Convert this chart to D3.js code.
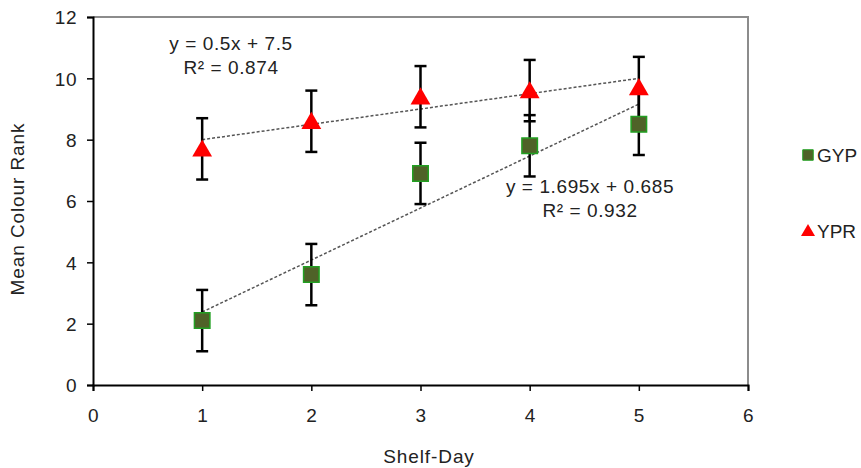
<!DOCTYPE html>
<html lang="en">
<head>
    <meta charset="utf-8">
    <title>Mean Colour Rank</title>
    <script src="https://cdn.jsdelivr.net/npm/d3@7"></script>
    <style>
        body { margin: 0; background: #fff; }
        text { font-family: "Liberation Sans", Arial, sans-serif; fill: #222; }
    </style>
</head>
<body>
<div id="chart"></div>
<script>
    // Data
    var days = [1, 2, 3, 4, 5];
    var gypMean = [2.1, 3.6, 6.9, 7.8, 8.5];
    var gypErr = [1, 1, 1, 1, 1];
    var yprMean = [7.7, 8.6, 9.4, 9.6, 9.7];
    var yprErr = [1, 1, 1, 1, 1];
    var xTicks = [0, 1, 2, 3, 4, 5, 6];
    var yTicks = [0, 2, 4, 6, 8, 10, 12];
    // trendline coefficients [slope, intercept]
    var gypFit = [1.695, 0.685];
    var yprFit = [0.5, 7.5];
    var gypLabel = ['y = 1.695x + 0.685', 'R\u00b2 = 0.932'];
    var yprLabel = ['y = 0.5x + 7.5', 'R\u00b2 = 0.874'];

    var width = 861, height = 468;
    var plotLeft = 93, plotRight = 748, plotTop = 17, plotBottom = 385;

    var x = d3.scaleLinear().domain([0, 6]).range([plotLeft, plotRight]);
    var y = d3.scaleLinear().domain([0, 12]).range([plotBottom, plotTop]);

    var svg = d3.select('#chart').append('svg')
        .attr('width', width)
        .attr('height', height);

    // plot area frame (top/right grey)
    svg.append('path')
        .attr('d', 'M' + plotLeft + ',' + plotTop + 'H' + plotRight + 'V' + plotBottom)
        .attr('fill', 'none')
        .attr('stroke', '#8c8c8c')
        .attr('stroke-width', 2);

    var fontSize = '19px';

    // axes
    var yAxis = svg.append('g')
        .attr('transform', 'translate(' + plotLeft + ',0)')
        .call(d3.axisLeft(y).tickValues(yTicks).tickFormat(d3.format('d')).tickSize(6).tickPadding(10));
    var xAxis = svg.append('g')
        .attr('transform', 'translate(0,' + plotBottom + ')')
        .call(d3.axisBottom(x).tickValues(xTicks).tickFormat(d3.format('d')).tickSize(6).tickPadding(18));

    [xAxis, yAxis].forEach(function(g) {
        g.select('.domain').attr('stroke', '#000').attr('stroke-width', 2);
        g.selectAll('.tick line').attr('stroke', '#000').attr('stroke-width', 1.5);
        g.selectAll('.tick text')
            .attr('font-family', '"Liberation Sans", Arial, sans-serif')
            .attr('font-size', fontSize)
            .attr('fill', '#222')
            .style('letter-spacing', '0.5px');
    });
    yAxis.selectAll('.tick text').attr('dy', '0.36em');

    // axis titles
    svg.append('text')
        .attr('x', 429).attr('y', 463)
        .attr('text-anchor', 'middle')
        .attr('font-size', fontSize)
        .style('letter-spacing', '0.9px')
        .text('Shelf-Day');

    svg.append('text')
        .attr('transform', 'translate(24,209) rotate(-90)')
        .attr('text-anchor', 'middle')
        .attr('font-size', fontSize)
        .style('letter-spacing', '0.9px')
        .text('Mean Colour Rank');

    // trendlines
    function trend(fit) {
        var x0 = d3.min(days), x1 = d3.max(days);
        svg.append('line')
            .attr('x1', x(x0)).attr('y1', y(fit[0] * x0 + fit[1]))
            .attr('x2', x(x1)).attr('y2', y(fit[0] * x1 + fit[1]))
            .attr('stroke', '#555')
            .attr('stroke-width', 1.5)
            .attr('stroke-dasharray', '3,2');
    }
    trend(yprFit);
    trend(gypFit);

    // error bars
    function errorBars(mean, err) {
        var g = svg.append('g').attr('stroke', '#000').attr('stroke-width', 2.5);
        days.forEach(function(d, i) {
            var hi = y(mean[i] + err[i]), lo = y(mean[i] - err[i]), cx = x(d);
            g.append('line').attr('x1', cx).attr('x2', cx).attr('y1', hi).attr('y2', lo);
            g.append('line').attr('x1', cx - 6).attr('x2', cx + 6).attr('y1', hi).attr('y2', hi);
            g.append('line').attr('x1', cx - 6).attr('x2', cx + 6).attr('y1', lo).attr('y2', lo);
        });
    }
    errorBars(gypMean, gypErr);
    errorBars(yprMean, yprErr);

    var square = d3.symbol().type(d3.symbolSquare).size(240);
    var triangle = d3.symbol().type(d3.symbolTriangle).size(170);

    // GYP markers
    svg.append('g').selectAll('path')
        .data(days)
        .enter()
        .append('path')
        .attr('d', square)
        .attr('transform', function(d, i) { return 'translate(' + x(d) + ',' + y(gypMean[i]) + ')'; })
        .attr('fill', '#4f6228')
        .attr('stroke', '#22a022')
        .attr('stroke-width', 1.5);

    // YPR markers
    svg.append('g').selectAll('path')
        .data(days)
        .enter()
        .append('path')
        .attr('d', triangle)
        .attr('transform', function(d, i) { return 'translate(' + x(d) + ',' + (y(yprMean[i]) + 2) + ')'; })
        .attr('fill', '#ff0000');

    // trendline labels
    function fitLabel(lines, cx, cy) {
        svg.append('g').selectAll('text')
            .data(lines)
            .enter()
            .append('text')
            .attr('x', cx)
            .attr('y', function(d, i) { return cy + i * 24; })
            .attr('text-anchor', 'middle')
            .attr('font-size', fontSize)
            .style('letter-spacing', '0.6px')
            .text(function(d) { return d; });
    }
    fitLabel(yprLabel, 231, 50);
    fitLabel(gypLabel, 590, 193);

    // legend
    var legend = svg.append('g');
    legend.append('path')
        .attr('d', d3.symbol().type(d3.symbolSquare).size(110))
        .attr('transform', 'translate(808,155)')
        .attr('fill', '#4f6228')
        .attr('stroke', '#22a022')
        .attr('stroke-width', 1);
    legend.append('text')
        .attr('x', 817).attr('y', 162)
        .attr('font-size', fontSize)
        .text('GYP');
    legend.append('path')
        .attr('d', d3.symbol().type(d3.symbolTriangle).size(85))
        .attr('transform', 'translate(808,232)')
        .attr('fill', '#ff0000');
    legend.append('text')
        .attr('x', 817).attr('y', 238)
        .attr('font-size', fontSize)
        .text('YPR');
</script>
</body>
</html>
